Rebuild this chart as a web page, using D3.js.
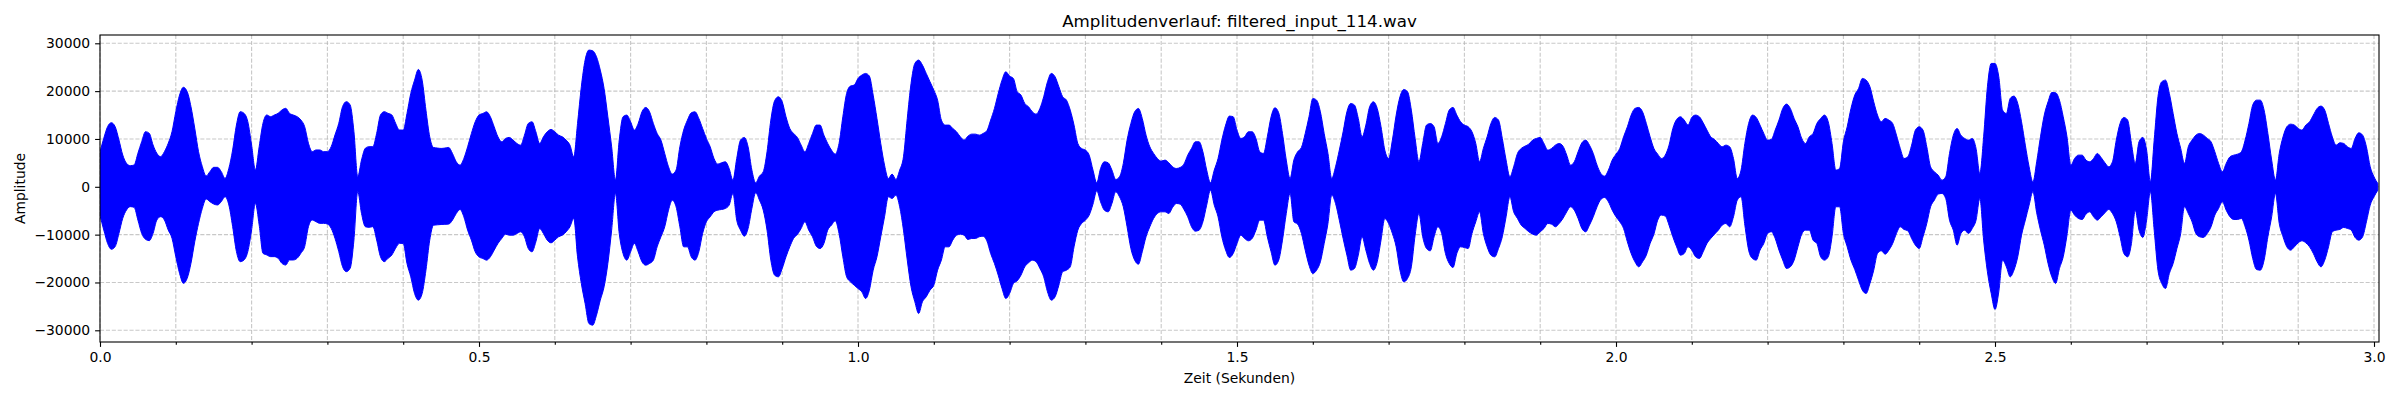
<!DOCTYPE html>
<html>
<head>
<meta charset="utf-8">
<script src="https://cdn.jsdelivr.net/npm/d3@7"></script>
<style>
  body { margin: 0; background: #fff; }
  text { font-family: "DejaVu Sans", sans-serif; fill: #000; }
</style>
</head>
<body>
<div id="chart"></div>
<script>
// envelope of the waveform, every 5 ms (amplitude units)
var sampleStep = 0.005;

var upperEnv = [
  7300,10150,12570,13400,12570,9790,6650,4900,4420,4560,
  7000,9440,11530,11180,8740,7000,6300,7350,9090,11530,
  15710,19200,20800,19900,16760,12230,7350,4210,2260,3170,
  4070,4070,3170,1770,3860,7700,12920,15710,15360,13620,
  8740,3510,8390,13270,15010,14670,15010,15360,16060,16400,
  15360,15010,14670,13970,12570,9090,7350,7700,7700,7350,
  7350,8390,10830,13270,16760,17800,17110,11530,2120,5600,
  8050,8390,8390,11180,15010,15710,15360,15010,13270,11880,
  11850,15330,19520,22300,24530,22300,16030,10450,8220,8100,
  8020,8100,8220,6970,5230,4530,5920,8360,11150,13590,
  14990,15330,15680,14640,12550,10450,9410,10110,10320,9760,
  9060,8710,10800,13240,13590,11500,9060,10450,11500,11990,
  11500,10800,10450,9760,8710,6270,13240,20910,26490,28580,
  28440,27180,24400,20560,14640,8360,1390,9760,14640,14990,
  13590,11850,13240,15680,16590,15680,13240,11150,9760,6970,
  4180,2650,3490,8360,11850,13940,15470,15680,14290,12200,
  10110,8360,5920,4740,5020,5230,3830,1390,5920,9760,
  10320,8360,3490,840,2230,3140,7320,13940,17980,18820,
  17770,14640,12200,11150,10320,8710,7320,9060,11150,12900,
  12900,10800,9060,7670,6830,9060,14640,19520,21050,21260,
  22650,23350,23700,23140,19170,14290,9060,4530,1740,2650,
  1530,3490,6270,14290,21610,25790,26490,25440,23700,21960,
  20210,18120,13940,12900,12900,12200,11500,10450,9760,10590,
  11010,11010,10800,11150,11710,13940,16380,19520,22300,24050,
  23140,22650,19870,19170,17430,16730,15680,15190,16380,18820,
  21960,23700,23000,20910,18820,18120,16030,12900,9060,8020,
  7670,6620,3490,840,3830,5230,5020,3490,1530,2090,
  4880,9760,13240,15680,16380,14290,10800,8360,6970,5920,
  5370,5580,5020,4180,3830,4040,4740,6620,8020,9410,
  9410,7320,3490,840,3490,5920,9760,12900,14780,14640,
  11850,10110,10450,11500,11500,10110,7320,6970,10450,14640,
  16520,15470,11150,5580,1740,5580,7320,8220,11150,14640,
  18470,18120,15680,11150,6970,1740,4180,7670,11500,15680,
  17430,17080,14290,10450,12900,16730,17770,16380,12550,7670,
  5920,9760,14990,18820,20350,19870,16030,10110,5230,9060,
  12900,13240,12550,9060,10450,13240,16030,16590,14990,13590,
  12900,12550,11500,9060,5230,8020,10450,13240,14500,13940,
  10110,5580,2090,4180,6970,8020,8500,8920,9760,10110,
  10320,9060,7670,8020,8710,9060,8500,6620,4530,5230,
  7320,9200,9760,8710,6970,4530,2790,2230,3490,5580,
  6830,8020,10450,12550,14990,16380,16590,15680,13240,10450,
  8020,6830,5920,6620,8710,12200,14080,14640,13940,12900,
  14500,14990,14640,13380,11850,10450,9900,9060,8360,8710,
  8360,5920,1740,3490,9060,13240,14990,14500,12900,11150,
  9760,9900,11850,13940,16380,17290,16380,14290,12550,10110,
  9060,10450,11150,13240,14290,14990,13590,9060,3490,3830,
  9410,12550,16380,19170,20560,22650,22300,20910,17770,14990,
  13590,14290,13940,13240,10800,8020,5920,6270,8710,11850,
  12550,11850,8360,4180,3140,2440,1390,2090,6970,10800,
  12200,10800,10110,9760,10110,8020,2790,10450,20910,25790,
  25790,23000,16030,15330,18470,18960,17430,13590,8710,4180,
  1000,5230,10450,14990,17770,19730,19660,18120,14640,10450,
  4530,5920,6620,6620,5580,5230,5920,6970,6130,5020,
  4180,5230,9760,13240,14500,13940,9060,4880,9410,10320,
  7670,1050,9760,18820,21960,22300,19520,15330,11150,8020,
  4880,8360,9760,10800,11150,10800,10110,9410,7320,4880,
  3140,4880,6270,6620,6830,7320,9760,13240,17080,18120,
  18120,16030,11150,5580,1390,6970,10450,12550,13100,12900,
  12200,11850,12900,13590,14990,16380,16870,16030,13240,10450,
  8710,9200,9060,8360,8020,10110,11290,10800,8360,4180,
  2090,700
];

var lowerEnv = [
  -6000,-9030,-11820,-13070,-12500,-9730,-6580,-4840,-4150,-4290,
  -6940,-9730,-10980,-11260,-9730,-6940,-6250,-6940,-9030,-10770,
  -14610,-18100,-20180,-19140,-16000,-11470,-7640,-4500,-2540,-3100,
  -3600,-3800,-3100,-2060,-3800,-8330,-13550,-15650,-15300,-13550,
  -9030,-3460,-7980,-13900,-14250,-14600,-14600,-14950,-16000,-16350,
  -15300,-15300,-14950,-13900,-12500,-8330,-6940,-7290,-7640,-7640,
  -7780,-8690,-10770,-13550,-16700,-17740,-17040,-11120,-1000,-5560,
  -8330,-8470,-8330,-11120,-14600,-15650,-14950,-14250,-12850,-11820,
  -11850,-16030,-18820,-22300,-23700,-22300,-17430,-11150,-8020,-7950,
  -7880,-7850,-7800,-6970,-5580,-4740,-6270,-9060,-11150,-13590,
  -14640,-14990,-15330,-14640,-13240,-11850,-10800,-9900,-10110,-10110,
  -9760,-9410,-10450,-12900,-13590,-11500,-8710,-9760,-11150,-11710,
  -11150,-10450,-10110,-9410,-8360,-6620,-14640,-20210,-24400,-28580,
  -28930,-26840,-23700,-20910,-16030,-9060,-1390,-9760,-13940,-15330,
  -13590,-11850,-13590,-15680,-16380,-16030,-15330,-12550,-10450,-8360,
  -4880,-2790,-4180,-8360,-12550,-12550,-14640,-15330,-13590,-9760,
  -7320,-6270,-5230,-4880,-4740,-4530,-3830,-1390,-6970,-9060,
  -10320,-8710,-4530,-1250,-2790,-4880,-9060,-15330,-18470,-18820,
  -17080,-14640,-12550,-10800,-9970,-8710,-7320,-9060,-10450,-12410,
  -12900,-11850,-9060,-8020,-7110,-9760,-14640,-18820,-19870,-20560,
  -21260,-21960,-23350,-21610,-17430,-14640,-10450,-6270,-2090,-2440,
  -1740,-4180,-9060,-15330,-20910,-24040,-26490,-24040,-23000,-21610,
  -20560,-17430,-15330,-12550,-12550,-11150,-10110,-9900,-10110,-11010,
  -10800,-10800,-10450,-10320,-11290,-13940,-16030,-18470,-21260,-23350,
  -22300,-20210,-19660,-18470,-16730,-15890,-15330,-15680,-17080,-18820,
  -21960,-23700,-23000,-20560,-17770,-17430,-16730,-12550,-9060,-7670,
  -6970,-5920,-3620,-840,-3140,-4880,-5230,-3490,-1050,-2090,
  -4180,-8360,-12900,-15330,-16170,-13590,-10450,-8360,-6620,-5580,
  -5230,-5230,-5580,-4320,-3490,-3620,-4740,-6270,-8360,-9270,
  -9060,-7320,-3830,-700,-3830,-6270,-10450,-13240,-14780,-13940,
  -11850,-10110,-10800,-11290,-10800,-9060,-6970,-6970,-10450,-13590,
  -16380,-15330,-11150,-5580,-1390,-7320,-7810,-9760,-13240,-16380,
  -18120,-17430,-15680,-11850,-7670,-1740,-3490,-6970,-10800,-14290,
  -17430,-17080,-14290,-10450,-13240,-16030,-17430,-15680,-11150,-6620,
  -7670,-9760,-12550,-17430,-19870,-19170,-16730,-10110,-5580,-10450,
  -12900,-13380,-10450,-8360,-9760,-13940,-16030,-16870,-13940,-12550,
  -12690,-12900,-9760,-7320,-5230,-9760,-12550,-14290,-14640,-12900,
  -10450,-6270,-2090,-5230,-6620,-8020,-8710,-9410,-9900,-10110,
  -9410,-8710,-7670,-7810,-8360,-7670,-6620,-5230,-4180,-4880,
  -6620,-8710,-9410,-8020,-6270,-4180,-2650,-2230,-3140,-4880,
  -6270,-7320,-8710,-11500,-13940,-15680,-16730,-15680,-14290,-11850,
  -9900,-6970,-5920,-6130,-8020,-10450,-12550,-14290,-13940,-12550,
  -13240,-14640,-14990,-13590,-11850,-10800,-9900,-9060,-8020,-7670,
  -8360,-6270,-2790,-2090,-8020,-13240,-14990,-15330,-13240,-11850,
  -9760,-9410,-10800,-13240,-15330,-17080,-16730,-15330,-12550,-9900,
  -9060,-9060,-11150,-11850,-14640,-15330,-14640,-10450,-4180,-4180,
  -9760,-12550,-15330,-17290,-19520,-21610,-22300,-20210,-17430,-13940,
  -13380,-14080,-13240,-11850,-9760,-8360,-8920,-9200,-10800,-12200,
  -12900,-10450,-7670,-4180,-2790,-1530,-1390,-2440,-6970,-9060,
  -12200,-9760,-9060,-9760,-8710,-6970,-2440,-11150,-17770,-22300,
  -25650,-21960,-15330,-16730,-18820,-17430,-14640,-10110,-6970,-3830,
  -1000,-5440,-9060,-12200,-16030,-18820,-20210,-17080,-14640,-10110,
  -4880,-5920,-6620,-6830,-5720,-5230,-6270,-6970,-6270,-5440,
  -4740,-5580,-7320,-10450,-13940,-14640,-11850,-4880,-9060,-10590,
  -6970,-1050,-9060,-17430,-20210,-21260,-18120,-16030,-12900,-9760,
  -4180,-5580,-7320,-9760,-10450,-10590,-9760,-8360,-5920,-4530,
  -3140,-4880,-6270,-6830,-6830,-6620,-8360,-11150,-14990,-17290,
  -17430,-15330,-10450,-6270,-1390,-7670,-10450,-12550,-13240,-12550,
  -11710,-11290,-11710,-12550,-13940,-15680,-16730,-15330,-12550,-9410,
  -9060,-8920,-8500,-8710,-9060,-10590,-11150,-10450,-7320,-3830,
  -2090,-700
];

var xDomain = [0, 3.0066];
var yDomain = [-32446, 31735];
var xMajorTicks = [0, 0.5, 1.0, 1.5, 2.0, 2.5, 3.0];
var xMinorTicks = [0.1, 0.2, 0.3, 0.4, 0.6, 0.7, 0.8, 0.9, 1.1, 1.2, 1.3, 1.4,
  1.6, 1.7, 1.8, 1.9, 2.1, 2.2, 2.3, 2.4, 2.6, 2.7, 2.8, 2.9];
var yTicks = [-30000, -20000, -10000, 0, 10000, 20000, 30000];

var titleText = "Amplitudenverlauf: filtered_input_114.wav";
var xLabelText = "Zeit (Sekunden)";
var yLabelText = "Amplitude";

var svgWidth = 2400;
var svgHeight = 400;

var margin = { top: 35, right: 21, bottom: 58, left: 100 };
var width = svgWidth - margin.left - margin.right;
var height = svgHeight - margin.top - margin.bottom;

var svg = d3.select("#chart")
  .append("svg")
  .attr("width", svgWidth)
  .attr("height", svgHeight)
  .style("display", "block");

svg.append("rect")
  .attr("width", svgWidth)
  .attr("height", svgHeight)
  .attr("fill", "#fff");

var chartGroup = svg.append("g")
  .attr("transform", `translate(${margin.left}, ${margin.top})`);

var xScale = d3.scaleLinear().domain(xDomain).range([0, width]);
var yScale = d3.scaleLinear().domain(yDomain).range([height, 0]);

var wave = upperEnv.map(function (u, i) {
  return { t: i * sampleStep, hi: u, lo: lowerEnv[i] };
});

// grid: every 0.1 s on x, every 10000 on y
var gridGroup = chartGroup.append("g")
  .attr("stroke", "#b0b0b0")
  .attr("stroke-opacity", 0.7)
  .attr("stroke-width", 1.1)
  .attr("stroke-dasharray", "4.1,1.8");

gridGroup.selectAll(".xgrid")
  .data(xMajorTicks.concat(xMinorTicks))
  .enter()
  .append("line")
  .attr("x1", d => xScale(d))
  .attr("x2", d => xScale(d))
  .attr("y1", 0)
  .attr("y2", height);

gridGroup.selectAll(".ygrid")
  .data(yTicks)
  .enter()
  .append("line")
  .attr("x1", 0)
  .attr("x2", width)
  .attr("y1", d => yScale(d))
  .attr("y2", d => yScale(d));

svg.append("defs")
  .append("clipPath")
  .attr("id", "plotClip")
  .append("rect")
  .attr("width", width)
  .attr("height", height);

var area = d3.area()
  .x(d => xScale(d.t))
  .y0(d => yScale(d.lo))
  .y1(d => yScale(d.hi))
  .curve(d3.curveMonotoneX);

chartGroup.append("path")
  .datum(wave)
  .attr("clip-path", "url(#plotClip)")
  .attr("d", area)
  .attr("fill", "#0000ff")
  .attr("stroke", "#0000ff")
  .attr("stroke-width", 1)
  .attr("stroke-linejoin", "round");

// axes
var fmtY = function (d) { return d < 0 ? "\u2212" + Math.abs(d) : String(d); };

var bottomAxis = d3.axisBottom(xScale)
  .tickValues(xMajorTicks)
  .tickFormat(d3.format(".1f"))
  .tickSize(4.9)
  .tickSizeOuter(0)
  .tickPadding(4.9);

var minorAxis = d3.axisBottom(xScale)
  .tickValues(xMinorTicks)
  .tickFormat("")
  .tickSize(2.8)
  .tickSizeOuter(0);

var leftAxis = d3.axisLeft(yScale)
  .tickValues(yTicks)
  .tickFormat(fmtY)
  .tickSize(4.9)
  .tickSizeOuter(0)
  .tickPadding(4.9);

var xAxisG = chartGroup.append("g")
  .attr("transform", `translate(0, ${height})`)
  .call(bottomAxis);

var xMinorG = chartGroup.append("g")
  .attr("transform", `translate(0, ${height})`)
  .call(minorAxis);

var yAxisG = chartGroup.append("g")
  .call(leftAxis);

[xAxisG, xMinorG, yAxisG].forEach(function (g) {
  g.select(".domain").remove();
  g.selectAll(".tick line").attr("stroke", "#000").attr("stroke-width", 1.1);
  g.selectAll(".tick text")
    .attr("font-family", "DejaVu Sans, sans-serif")
    .attr("font-size", "13.9px")
    .attr("fill", "#000");
});

// spines
chartGroup.append("rect")
  .attr("width", width)
  .attr("height", height)
  .attr("fill", "none")
  .attr("stroke", "#000")
  .attr("stroke-width", 1.1);

// labels
svg.append("text")
  .attr("x", margin.left + width / 2)
  .attr("y", 26.7)
  .attr("text-anchor", "middle")
  .attr("font-size", "16.7px")
  .text(titleText);

svg.append("text")
  .attr("x", margin.left + width / 2)
  .attr("y", 383.3)
  .attr("text-anchor", "middle")
  .attr("font-size", "13.9px")
  .text(xLabelText);

svg.append("text")
  .attr("transform", `translate(24.5, ${margin.top + height / 2}) rotate(-90)`)
  .attr("text-anchor", "middle")
  .attr("font-size", "13.9px")
  .text(yLabelText);
</script>
</body>
</html>
